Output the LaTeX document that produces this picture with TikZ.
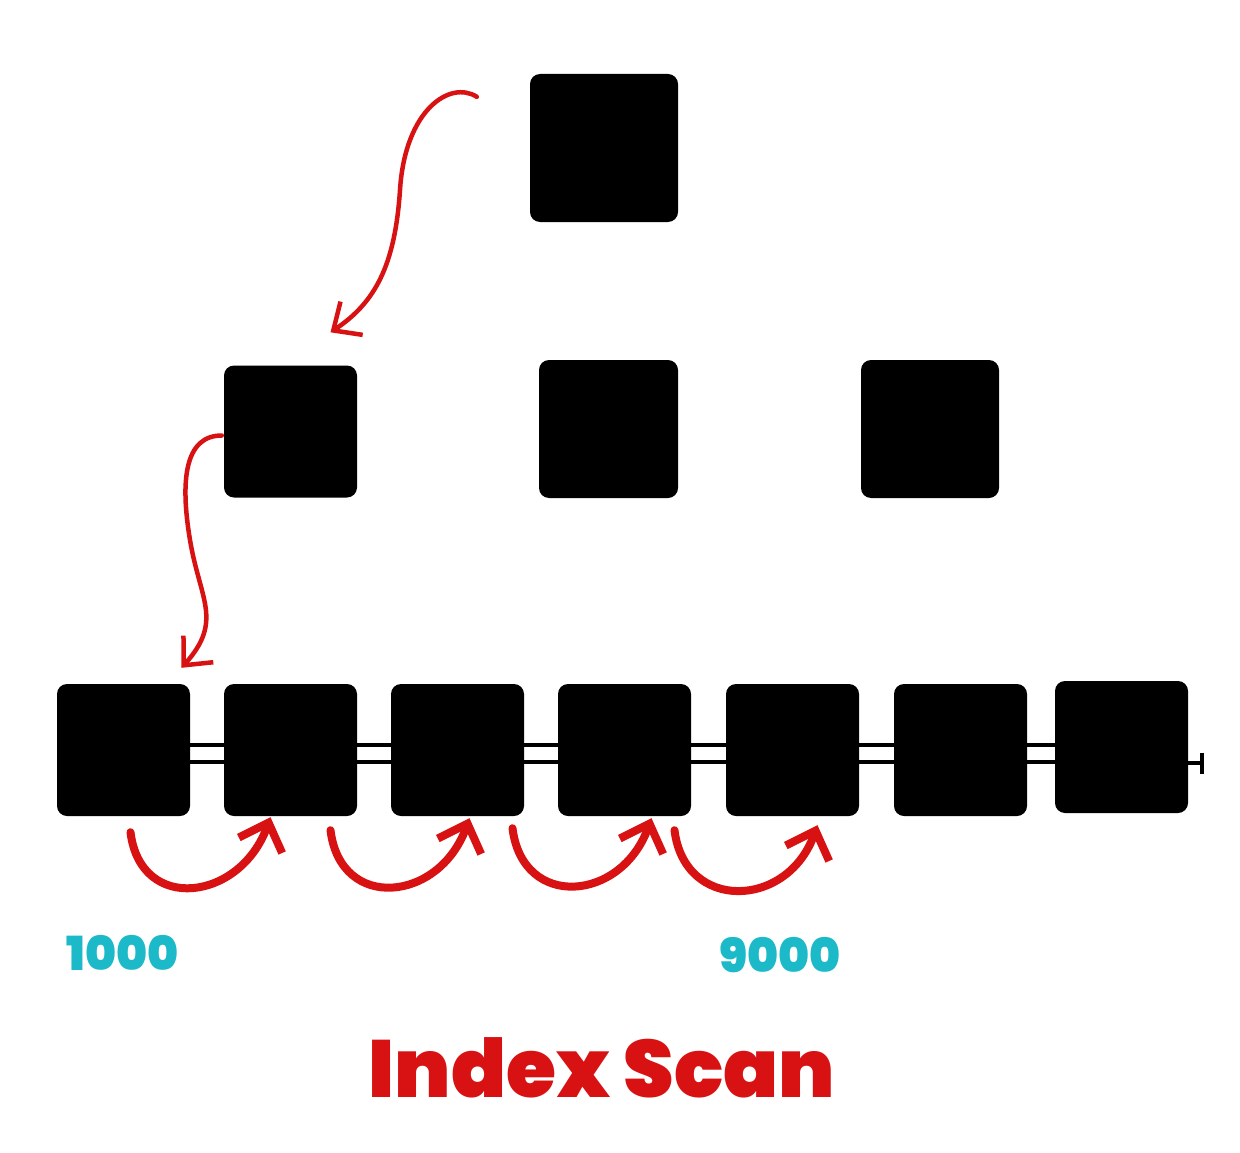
\documentclass[tikz,border=0pt]{standalone}
\usepackage{fontspec}
\usetikzlibrary{arrows.meta,calc}
\newfontfamily\titlefont{Poppins}[UprightFont={* Black}]
\definecolor{scanred}{RGB}{216,18,18}
\definecolor{keycyan}{RGB}{28,186,200}

\begin{document}
\begin{tikzpicture}[line cap=round,line join=round,x=1pt,y=-1pt,
  page/.style={fill=black,rounded corners=10pt,inner sep=0pt,minimum width=133pt,minimum height=132pt},
  rail/.style={line width=4pt},
  hop/.style={draw=scanred,line width=8pt,-{Straight Barb[length=24pt,width=46pt]}},
  descend/.style={draw=scanred,line width=4.5pt,-{Straight Barb[length=22pt,width=40pt]}},
  key/.style={text=keycyan,font=\titlefont\fontsize{47}{47}\selectfont}]
\useasboundingbox[fill=white] (0,0) rectangle (1240,1153);
\node[page,minimum width=148pt,minimum height=148pt] (root) at (604,148) {};
\node[page] (m1) at (290.5,431.5) {};
\node[page,minimum width=139pt,minimum height=138pt] (m2) at (608.5,429) {};
\node[page,minimum width=138pt,minimum height=138pt] (m3) at (930,429) {};
\node[page] (l1) at (123.5,750) {};
\node[page] (l2) at (290.5,750) {};
\node[page] (l3) at (457.5,750) {};
\node[page] (l4) at (624.5,750) {};
\node[page] (l5) at (792.5,750) {};
\node[page] (l6) at (960.5,750) {};
\node[page] (l7) at (1121.5,747) {};
\draw[rail] ($(l1.east)+(0,-5)$) -- ($(l7.west)+(0,-2)$);
\draw[rail] ($(l1.east)+(0,12)$) -- ($(l7.west)+(0,15)$);
\draw[rail,-{Bar[width=21pt]}] ($(l7.east)+(0,16)$) -- ++(16,0);
\draw[descend] ($(root.north west)+(-53,23)$) .. controls +(-27,-17) and +(5,-80) .. (400,190)
  .. controls +(-5,75) and +(45,-30) .. ($(m1.north)+(40,-33)$);
\draw[descend] ($(m1.west)+(-2,4)$) .. controls +(-37,0) and +(-10,-60) .. (190,540)
  .. controls +(10,60) and +(42,-47) .. ($(l1.north)+(58,-16)$);
\draw[hop] ($(l1.south)+(7,16)$) .. controls +(10,82) and +(-30,84) .. ($(l2.south)+(-20,1)$);
\draw[hop] ($(l2.south)+(40,14)$) .. controls +(10,82) and +(-30,84) .. ($(l3.south)+(12,2)$);
\draw[hop] ($(l3.south)+(55,12)$) .. controls +(10,82) and +(-30,84) .. ($(l4.south)+(27,2)$);
\draw[hop] ($(l4.south)+(50,14)$) .. controls +(10,82) and +(-30,84) .. ($(l5.south)+(25,9)$);
\node[key] (k1) at (123,953) {1000};
\node[key] (k9) at (780,955) {9000};
\node[text=scanred,font=\titlefont\fontsize{81}{81}\selectfont] (title) at (602,1068) {Index Scan};
\end{tikzpicture}
\end{document}
